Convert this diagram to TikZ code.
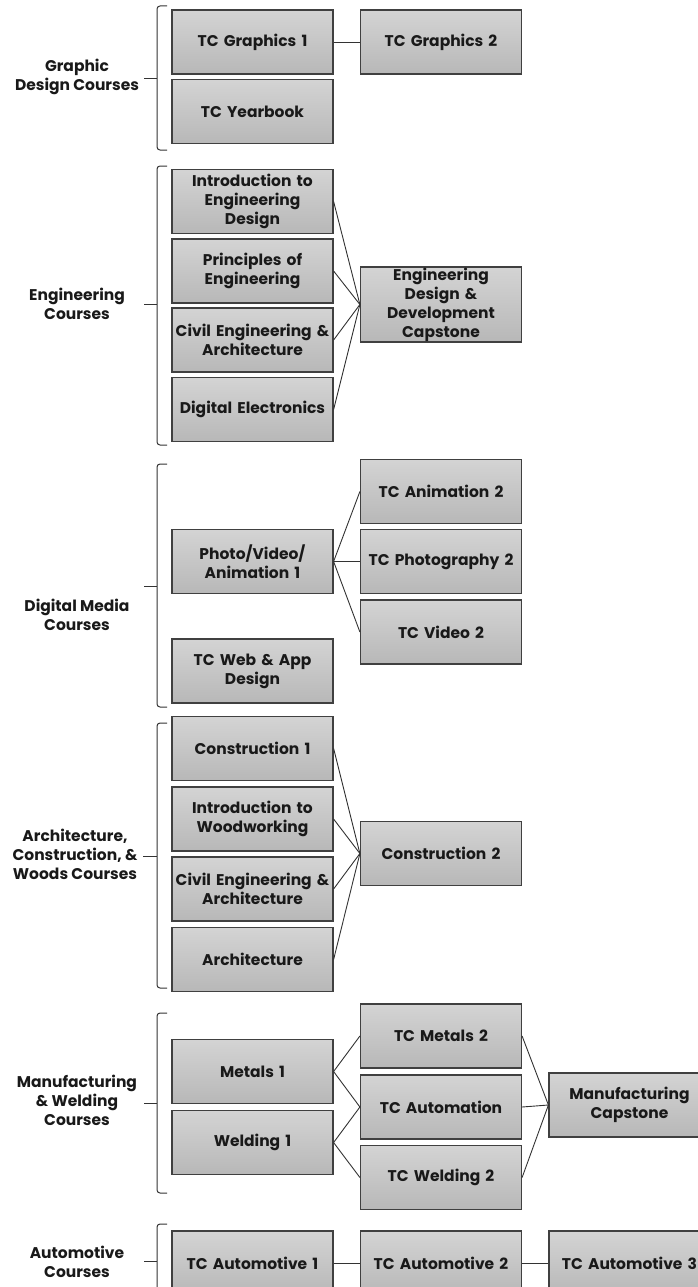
\documentclass[tikz,border=0pt]{standalone}
\usepackage{fontspec}
\setmainfont{Poppins}

\begin{document}
\begin{tikzpicture}[x=1pt,y=-1pt,
    course/.style={draw=black!75,line width=1.2pt,top color=black!17,bottom color=black!28,
      minimum width=161pt,minimum height=64pt,text width=159pt,align=center,
      inner xsep=1pt,inner ysep=0pt,font=\bfseries\fontsize{15.5}{19}\selectfont,text=black!90},
    group/.style={align=center,font=\bfseries\fontsize{15.5}{19}\selectfont,text=black!90},
    link/.style={draw=black!80,line width=0.9pt},
    bracket/.style={draw=black!80,line width=1pt,rounded corners=3pt}]
      \useasboundingbox (0,0) rectangle (697,1287);

      % graphic design
      \node[group] (ggd) at (77,77) {Graphic\\Design Courses};
      \draw[bracket] (167,6) -- (157,6) -- (157,150) -- (167,150);
      \draw[bracket] (144,79) -- (157,79);
      \node[course] (gr1) at (252.5,42) {TC Graphics 1};
      \node[course] (gr2) at (441,42) {TC Graphics 2};
      \node[course] (year) at (252.5,111.5) {TC Yearbook};
      \draw[link] (gr1) -- (gr2);

      % engineering
      \node[group] (geng) at (77,304) {Engineering\\Courses};
      \draw[bracket] (167,166) -- (157,166) -- (157,445) -- (167,445);
      \draw[bracket] (144,304) -- (157,304);
      \node[course] (ied) at (252.5,201.5) {Introduction to\\Engineering\\Design};
      \node[course] (poe) at (252.5,271) {Principles of\\Engineering};
      \node[course] (cea) at (252.5,340) {Civil Engineering \&\\Architecture};
      \node[course] (de) at (252.5,409.5) {Digital Electronics};
      \node[course,minimum height=75pt] (edd) at (441,304.5) {Engineering\\Design \&\\Development\\Capstone};
      \draw[link] (ied.east) -- (edd.west);
      \draw[link] (poe.east) -- (edd.west);
      \draw[link] (cea.east) -- (edd.west);
      \draw[link] (de.east) -- (edd.west);

      % digital media
      \node[group] (gdm) at (77,615) {Digital Media\\Courses};
      \draw[bracket] (167,464) -- (157,464) -- (157,707) -- (167,707);
      \draw[bracket] (144,586) -- (157,586);
      \node[course] (pva) at (252.5,561.5) {Photo/Video/\\Animation 1};
      \node[course] (web) at (252.5,671) {TC Web \& App\\Design};
      \node[course] (ani) at (441,491.5) {TC Animation 2};
      \node[course] (pho) at (441,561.5) {TC Photography 2};
      \node[course] (vid) at (441,632) {TC Video 2};
      \draw[link] (pva.east) -- (ani.west);
      \draw[link] (pva.east) -- (pho.west);
      \draw[link] (pva.east) -- (vid.west);

      % architecture, construction, woods
      \node[group] (gacw) at (75,854) {Architecture,\\Construction, \&\\Woods Courses};
      \draw[bracket] (167,723) -- (157,723) -- (157,988) -- (167,988);
      \draw[bracket] (143,856) -- (157,856);
      \node[course] (con1) at (252.5,748.5) {Construction 1};
      \node[course] (iw) at (252.5,819) {Introduction to\\Woodworking};
      \node[course] (cea2) at (252.5,889) {Civil Engineering \&\\Architecture};
      \node[course] (arch) at (252.5,959.5) {Architecture};
      \node[course] (con2) at (441,853.5) {Construction 2};
      \draw[link] (con1.east) -- (con2.west);
      \draw[link] (iw.east) -- (con2.west);
      \draw[link] (cea2.east) -- (con2.west);
      \draw[link] (arch.east) -- (con2.west);

      % manufacturing and welding
      \node[group] (gmw) at (77,1100) {Manufacturing\\\& Welding\\Courses};
      \draw[bracket] (167,1013) -- (157,1013) -- (157,1193) -- (167,1193);
      \draw[bracket] (144,1103) -- (157,1103);
      \node[course] (met1) at (252.5,1071.5) {Metals 1};
      \node[course] (wel1) at (252.5,1142.5) {Welding 1};
      \node[course] (met2) at (441,1036) {TC Metals 2};
      \node[course] (auto) at (441,1107) {TC Automation};
      \node[course] (wel2) at (441,1177.5) {TC Welding 2};
      \node[course] (mcap) at (629.5,1105) {Manufacturing\\Capstone};
      \draw[link] (met1.east) -- (met2.west);
      \draw[link] (met1.east) -- (auto.west);
      \draw[link] (wel1.east) -- (auto.west);
      \draw[link] (wel1.east) -- (wel2.west);
      \draw[link] (met2.east) -- (mcap.west);
      \draw[link] (auto.east) -- (mcap.west);
      \draw[link] (wel2.east) -- (mcap.west);

      % automotive
      \node[group] (gam) at (77,1262) {Automotive\\Courses};
      \draw[bracket] (167,1224) -- (157,1224) -- (157,1330);
      \draw[bracket] (144,1261) -- (157,1261);
      \node[course] (am1) at (252.5,1263) {TC Automotive 1};
      \node[course] (am2) at (441,1263) {TC Automotive 2};
      \node[course] (am3) at (629.5,1263) {TC Automotive 3};
      \draw[link] (am1) -- (am2);
      \draw[link] (am2) -- (am3);
\end{tikzpicture}
\end{document}
